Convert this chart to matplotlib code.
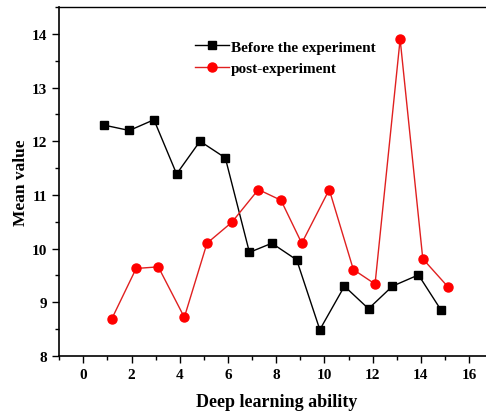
import numpy as np
import matplotlib; matplotlib.use("Agg")
import matplotlib.pyplot as plt
from matplotlib.ticker import MultipleLocator

# values
before_x = [0.86, 1.91, 2.93, 3.87, 4.84, 5.89, 6.89, 7.82, 8.85, 9.81, 10.83, 11.83, 12.82, 13.9, 14.83]
before_y = [12.30, 12.20, 12.40, 11.39, 12.00, 11.69, 9.93, 10.10, 9.79, 8.49, 9.30, 8.88, 9.30, 9.51, 8.86]
post_x = [1.18, 2.19, 3.11, 4.19, 5.13, 6.16, 7.26, 8.20, 9.06, 10.20, 11.20, 12.10, 13.14, 14.08, 15.12]
post_y = [8.69, 9.63, 9.66, 8.72, 10.10, 10.49, 11.10, 10.90, 10.10, 11.10, 9.61, 9.34, 13.90, 9.81, 9.29]
x_ticks = [0, 2, 4, 6, 8, 10, 12, 14, 16]
y_ticks = [8, 9, 10, 11, 12, 13, 14]

plt.rcParams["font.family"] = ["Liberation Serif", "DejaVu Serif"]
plt.rcParams["font.weight"] = "bold"

fig = plt.figure(figsize=(4.86, 4.14), dpi=100)
ax = fig.add_axes([0.1218, 0.1377, 0.893, 0.843])

ax.plot(before_x, before_y, color="black", lw=1.0, marker="s", ms=6,
        label="Before the experiment")
ax.plot(post_x, post_y, color="#e02020", lw=1.0, marker="o", ms=6.5,
        mfc="red", mec="red", label="post-experiment")

ax.set_xlim(-1, 17)
ax.set_ylim(8, 14.5)
ax.set_xticks(x_ticks)
ax.set_yticks(y_ticks)
ax.xaxis.set_minor_locator(MultipleLocator(1))
ax.yaxis.set_minor_locator(MultipleLocator(0.5))
ax.tick_params(which="major", direction="out", length=5, width=1, labelsize=11)
ax.tick_params(which="minor", direction="out", length=3, width=1)
ax.spines["right"].set_visible(False)
for s in ("left", "bottom"):
    ax.spines[s].set_linewidth(1.2)
ax.spines["top"].set_linewidth(1.0)

ax.set_xlabel("Deep learning ability", fontsize=13, fontweight="bold", labelpad=9)
ax.set_ylabel("Mean value", fontsize=12.5, fontweight="bold", labelpad=2)

ax.legend(loc="upper left", bbox_to_anchor=(0.313, 0.905), frameon=False,
          handlelength=2.2, handletextpad=0.15, labelspacing=0.5,
          borderpad=0, borderaxespad=0, prop={"weight": "bold", "size": 11})

fig.savefig("out.png", dpi=100)
